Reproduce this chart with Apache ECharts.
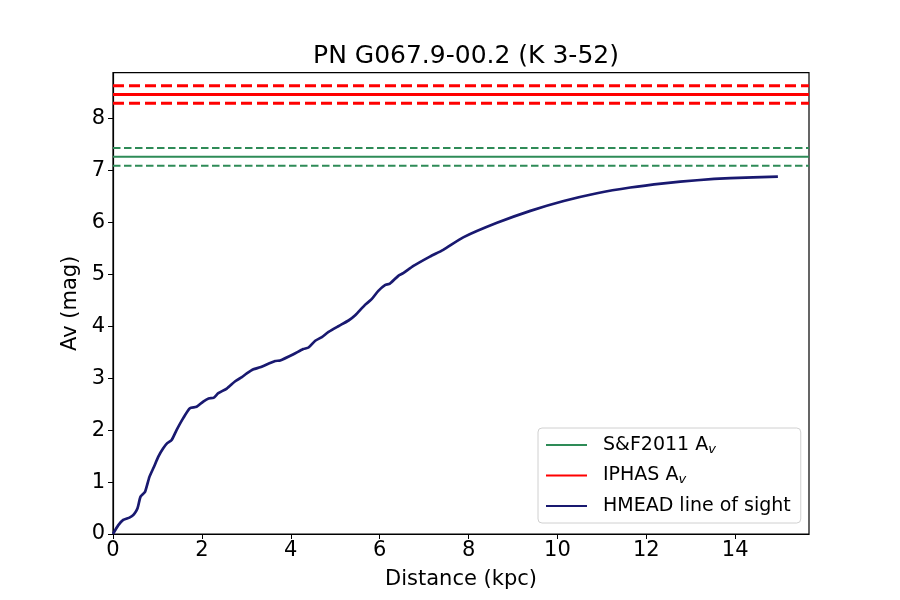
<!DOCTYPE html>
<html><head><meta charset="utf-8">
<script src="https://cdn.jsdelivr.net/npm/echarts@6/dist/echarts.min.js"></script>
<style>html,body{margin:0;padding:0;background:#fff}#c{width:900px;height:600px}</style>
</head><body><div id="c"></div>
<script>
const distance = [0,0.12,0.23,0.38,0.47,0.55,0.62,0.72,0.82,0.92,1.02,1.13,1.22,1.32,1.43,1.58,1.73,1.88,2.03,2.15,2.26,2.37,2.56,2.75,2.90,3.01,3.16,3.31,3.65,3.76,4.06,4.28,4.40,4.55,4.70,4.85,5.07,5.30,5.45,5.67,5.82,5.97,6.12,6.23,6.42,6.53,6.76,7.13,7.43,7.88,8.64,9.39,10.14,10.89,11.64,12.39,13.14,13.89,14.96];
const av = [0,0.17,0.27,0.32,0.38,0.49,0.72,0.81,1.10,1.29,1.49,1.65,1.75,1.81,2.00,2.23,2.42,2.45,2.55,2.61,2.62,2.71,2.80,2.94,3.02,3.09,3.17,3.21,3.33,3.34,3.46,3.56,3.59,3.72,3.79,3.89,4.00,4.11,4.21,4.41,4.52,4.68,4.79,4.82,4.97,5.02,5.16,5.34,5.47,5.71,5.99,6.22,6.41,6.56,6.67,6.75,6.81,6.85,6.88];
const sfAv = 7.26, sfErr = 0.17;
const iphasAv = 8.46, iphasErr = 0.17;
const xMin = 0, xMax = 15.66, yMin = 0, yMax = 8.88;
const titleText = 'PN G067.9-00.2 (K 3-52)';

const hline = (y) => [[xMin, y], [xMax, y]];
const font = 'DejaVu Sans';
const chart = echarts.init(document.getElementById('c'));
chart.setOption({
  animation: false,
  textStyle: {fontFamily: font},
  title: {text: titleText, left: 461, top: 39, textAlign: 'center',
    textStyle: {fontFamily: font, fontSize: 25, fontWeight: 'normal', color: '#000'}},
  grid: {left: 113, right: 91, top: 72.7, bottom: 66, show: true, borderColor: '#000', borderWidth: 1.2},
  xAxis: {type: 'value', min: xMin, max: xMax, interval: 2,
    name: 'Distance (kpc)', nameLocation: 'middle', nameGap: 35,
    nameTextStyle: {fontSize: 21, color: '#000', fontFamily: font},
    axisLine: {lineStyle: {color: '#000', width: 1.2}},
    axisTick: {show: true, inside: false, length: 5, lineStyle: {color: '#000'}},
    axisLabel: {fontSize: 21, color: '#000', margin: 6, showMaxLabel: false, fontFamily: font},
    splitLine: {show: false}},
  yAxis: {type: 'value', min: yMin, max: yMax, interval: 1,
    name: 'Av (mag)', nameLocation: 'middle', nameGap: 29,
    nameTextStyle: {fontSize: 21, color: '#000', fontFamily: font},
    axisLine: {show: true, lineStyle: {color: '#000', width: 1.2}},
    axisTick: {show: true, inside: false, length: 5, lineStyle: {color: '#000'}},
    axisLabel: {fontSize: 21, color: '#000', margin: 8, showMaxLabel: false, fontFamily: font},
    splitLine: {show: false}},
  legend: {orient: 'vertical', left: 538, top: 428, padding: [6, 10, 6, 7],
    backgroundColor: 'rgba(255,255,255,0.8)', borderColor: '#d0d0d0', borderWidth: 1, borderRadius: 4,
    itemWidth: 41, itemHeight: 14, itemGap: 8.5,
    itemStyle: {opacity: 0},
    data: ['S&F2011 A_v', 'IPHAS A_v', 'HMEAD line of sight'],
    formatter: function (name) {
      if (name.endsWith(' A_v')) return '{a|' + name.slice(0, -3) + 'A}{s|v}';
      return '{a|' + name + '}';
    },
    textStyle: {fontSize: 19, color: '#000', padding: [0, 0, 0, 11], lineHeight: 22,
      rich: {a: {fontSize: 19, fontFamily: font, color: '#000', lineHeight: 22},
             s: {fontSize: 13, fontFamily: font, fontStyle: 'italic', color: '#000', verticalAlign: 'bottom', padding: [7, 0, 0, 0], lineHeight: 22}}}},
  series: [
    {name: 'S&F2011 A_v', type: 'line', data: hline(sfAv), symbol: 'none', color: '#2e8b57', lineStyle: {width: 2, color: '#2e8b57'}, z: 2},
    {name: 'sf_up', type: 'line', data: hline(sfAv + sfErr), symbol: 'none', lineStyle: {width: 2, color: '#2e8b57', type: [7.5, 3.5]}, z: 2},
    {name: 'sf_lo', type: 'line', data: hline(sfAv - sfErr), symbol: 'none', lineStyle: {width: 2, color: '#2e8b57', type: [7.5, 3.5]}, z: 2},
    {name: 'IPHAS A_v', type: 'line', data: hline(iphasAv), symbol: 'none', color: '#ff0000', lineStyle: {width: 3, color: '#ff0000'}, z: 2},
    {name: 'iph_up', type: 'line', data: hline(iphasAv + iphasErr), symbol: 'none', lineStyle: {width: 3, color: '#ff0000', type: [11, 5]}, z: 2},
    {name: 'iph_lo', type: 'line', data: hline(iphasAv - iphasErr), symbol: 'none', lineStyle: {width: 3, color: '#ff0000', type: [11, 5]}, z: 2},
    {name: 'HMEAD line of sight', type: 'line', data: distance.map((d, i) => [d, av[i]]), symbol: 'none', smooth: 0.2,
      color: '#191970', lineStyle: {width: 2.7, color: '#191970'}, z: 3}
  ]
});
</script></body></html>
